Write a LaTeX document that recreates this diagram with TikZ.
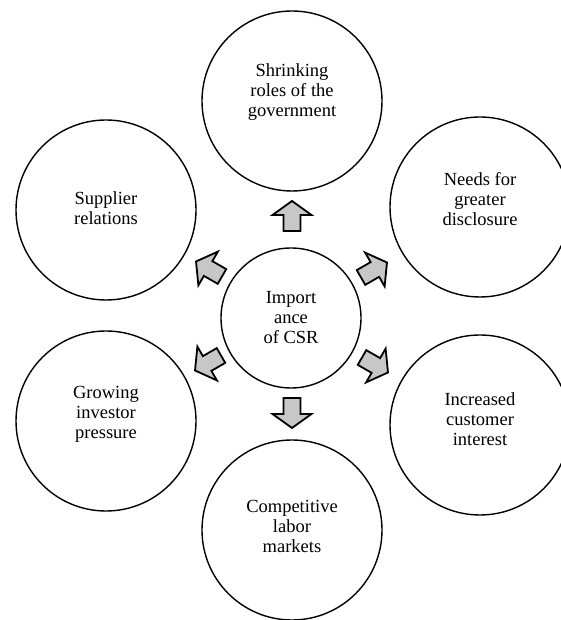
\documentclass[tikz,border=0pt]{standalone}
\usepackage{fontspec}
\setmainfont{Liberation Serif}

\newcommand\csrfont{\fontsize{18.5}{20}\selectfont}

\begin{document}
\begin{tikzpicture}[x=1pt,y=1pt]
\tikzstyle{bubble}=[circle,draw,line width=1.4pt,minimum size=180pt,inner sep=0pt]
\tikzstyle{hub}=[circle,draw,line width=1.4pt,minimum size=140pt,inner sep=0pt,
  align=center,font=\csrfont]
\tikzstyle{bubbletext}=[align=center,font=\csrfont]
\tikzstyle{blockarrow}=[draw,line width=1.8pt,fill=black!22]

\useasboundingbox (0,0) rectangle (560,620);

%centre of the diagram
\node[hub] (csr) at (291,302) {Import\\ance\\of CSR};

%surrounding circles
\node[bubble] (gov) at (292,519) {};
\node[bubble] (disc) at (480,413) {};
\node[bubble] (cust) at (480,195) {};
\node[bubble] (labor) at (292,90) {};
\node[bubble] (invest) at (106,199) {};
\node[bubble] (supp) at (106,410) {};

%texts of the circles
\node[bubbletext] (govtext) at ([yshift=9pt]gov.center) {Shrinking\\roles of the\\government};
\node[bubbletext] (disctext) at ([yshift=8pt]disc.center) {Needs for\\greater\\disclosure};
\node[bubbletext] (custtext) at ([yshift=6pt]cust.center) {Increased\\customer\\interest};
\node[bubbletext] (labortext) at ([yshift=4pt]labor.center) {Competitive\\labor\\markets};
\node[bubbletext] (investtext) at ([yshift=7pt]invest.center) {Growing\\investor\\pressure};
\node[bubbletext] (supptext) at ([yshift=2pt]supp.center) {Supplier\\relations};

%places of the block arrows
\coordinate (togov) at (292,404);
\coordinate (todisc) at (374,350);
\coordinate (tocust) at (375,255);
\coordinate (tolabor) at (292,207);
\coordinate (toinvest) at (208,257);
\coordinate (tosupp) at (209,351);

%block arrows out of the centre
\draw[blockarrow,shift={(togov)},rotate=90] (-15,-8.5) -- (1,-8.5) -- (1,-19.5)
  -- (15,0) -- (1,19.5) -- (1,8.5) -- (-15,8.5) -- cycle;
\draw[blockarrow,shift={(todisc)},rotate=30] (-15,-8.5) -- (1,-8.5) -- (1,-19.5)
  -- (15,0) -- (1,19.5) -- (1,8.5) -- (-15,8.5) -- cycle;
\draw[blockarrow,shift={(tocust)},rotate=-30] (-15,-8.5) -- (1,-8.5) -- (1,-19.5)
  -- (15,0) -- (1,19.5) -- (1,8.5) -- (-15,8.5) -- cycle;
\draw[blockarrow,shift={(tolabor)},rotate=-90] (-15,-8.5) -- (1,-8.5) -- (1,-19.5)
  -- (15,0) -- (1,19.5) -- (1,8.5) -- (-15,8.5) -- cycle;
\draw[blockarrow,shift={(toinvest)},rotate=-150] (-15,-8.5) -- (1,-8.5) -- (1,-19.5)
  -- (15,0) -- (1,19.5) -- (1,8.5) -- (-15,8.5) -- cycle;
\draw[blockarrow,shift={(tosupp)},rotate=150] (-15,-8.5) -- (1,-8.5) -- (1,-19.5)
  -- (15,0) -- (1,19.5) -- (1,8.5) -- (-15,8.5) -- cycle;

\end{tikzpicture}
\end{document}
